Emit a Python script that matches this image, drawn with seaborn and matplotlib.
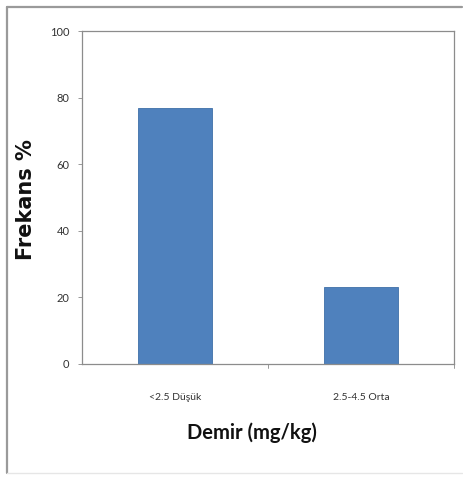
import matplotlib
matplotlib.use("Agg")
import matplotlib.pyplot as plt
import seaborn as sns
import pandas as pd
from matplotlib.lines import Line2D

categories = ["<2.5 Düşük", "2.5-4.5 Orta"]
values = [77, 23]
y_ticks = [0, 20, 40, 60, 80, 100]

sns.set_style("white")
plt.rcParams['font.family'] = ['Lato', 'DejaVu Sans']

df = pd.DataFrame({"cat": categories, "val": values})

fig = plt.figure(figsize=(4.64, 4.80), dpi=100)
W, H = 464, 480
ax = fig.add_axes([82 / W, 1 - 364 / H, (454 - 82) / W, (364 - 31) / H])

sns.barplot(data=df, x="cat", y="val", color="#4F81BD", saturation=1,
            width=0.4, ax=ax, edgecolor="#3E6FA8", linewidth=0.6)

ax.set_ylim(0, 100)
ax.set_xlim(-0.5, 1.5)
ax.set_yticks(y_ticks)
ax.set_yticklabels([str(t) for t in y_ticks], fontsize=8, color="#333333")
ax.set_xticks([0, 1])
ax.set_xticklabels(categories, fontsize=7.5, color="#333333")
ax.tick_params(axis="x", length=0, pad=21)
ax.tick_params(axis="y", length=3, width=0.6, color="#888888", left=True, pad=6)
# middle x tick mark between categories
ax.plot([0.5, 0.5], [0, -1.2], color="#888888", lw=0.6, clip_on=False)
ax.plot([1.5, 1.5], [0, -1.2], color="#888888", lw=0.6, clip_on=False)

for s in ax.spines.values():
    s.set_visible(True)
    s.set_color("#8C8C8C")
    s.set_linewidth(0.9)

ax.set_xlabel("Demir (mg/kg)", fontsize=14.5, fontweight="bold", color="#111111", va="center")
ax.xaxis.set_label_coords((252 - 82) / 372, (364 - 433) / 333)
ax.set_ylabel("Frekans %", fontsize=15, fontweight="bold", color="#111111",
              family=["DejaVu Sans"], va="center")
ax.yaxis.set_label_coords((26 - 82) / 372, (364 - 200) / 333)

# outer chart border
fig.add_artist(Line2D([7 / W, 7 / W], [1 - 7 / H, 1 - 473 / H], transform=fig.transFigure,
                      color="#9A9A9A", lw=1.6))
fig.add_artist(Line2D([7 / W, 462 / W], [1 - 7 / H, 1 - 7 / H], transform=fig.transFigure,
                      color="#9A9A9A", lw=1.6))
fig.add_artist(Line2D([7 / W, 462 / W], [1 - 473 / H, 1 - 473 / H], transform=fig.transFigure,
                      color="#E6E6E6", lw=1.0))

fig.savefig("out.png", dpi=100)
